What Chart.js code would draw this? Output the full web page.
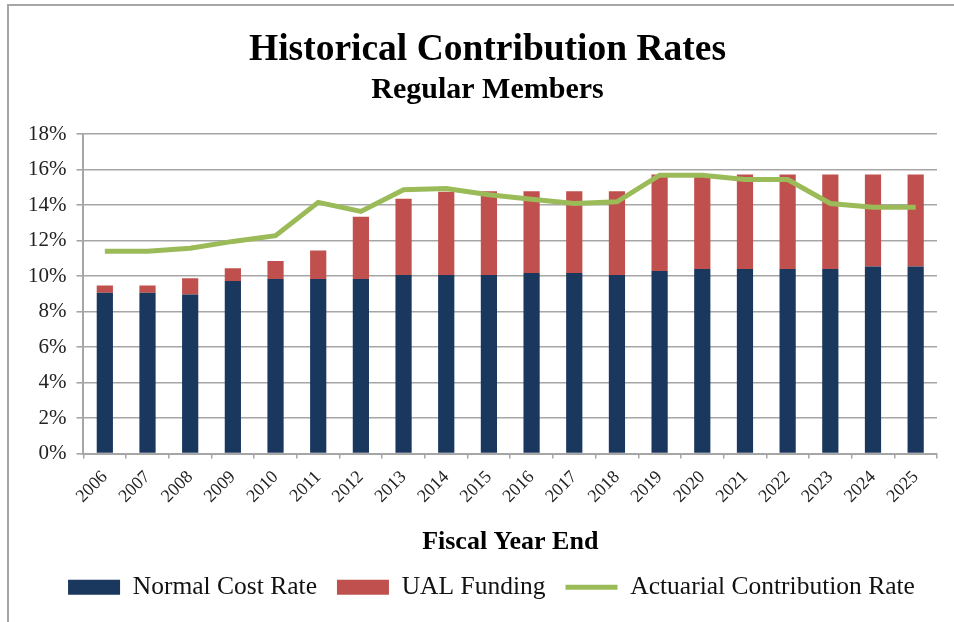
<!DOCTYPE html>
<html>
<head>
<meta charset="utf-8">
<script src="https://cdn.jsdelivr.net/npm/chart.js@4.4.1/dist/chart.umd.min.js"></script>
<style>
  html, body { margin: 0; padding: 0; background: #fff; }
  #wrap { position: relative; width: 954px; height: 622px; }
  #frame { position: absolute; left: 7px; top: 4px; width: 960px; height: 640px;
           border-left: 2px solid #a6a6a6; border-top: 2px solid #a6a6a6; }
  canvas { position: absolute; left: 0; top: 0; }
</style>
</head>
<body>
<div id="wrap">
  <div id="frame"></div>
  <canvas id="chart" width="954" height="622"></canvas>
</div>
<script>
// Fiscal years
const years = ['2006', '2007', '2008', '2009', '2010', '2011', '2012', '2013', '2014', '2015',
               '2016', '2017', '2018', '2019', '2020', '2021', '2022', '2023', '2024', '2025'];

// Normal cost rate (%)
const normalCost = [9.06, 9.06, 8.96, 9.73, 9.84, 9.84, 9.84, 10.07, 10.07, 10.07,
                    10.18, 10.18, 10.07, 10.29, 10.41, 10.41, 10.41, 10.41, 10.54, 10.54];

// UAL funding rate (%), stacked on top of normal cost
const ualFunding = [0.41, 0.41, 0.92, 0.71, 1.02, 1.60, 3.51, 4.29, 4.69, 4.72,
                    4.61, 4.61, 4.72, 5.44, 5.32, 5.32, 5.32, 5.32, 5.19, 5.19];

// Actuarial contribution rate (%)
const actuarialRate = [11.40, 11.40, 11.57, 11.96, 12.28, 14.16, 13.65, 14.87, 14.94, 14.59,
                       14.34, 14.10, 14.19, 15.69, 15.69, 15.45, 15.45, 14.10, 13.88, 13.88];

// Y axis ticks
const yMax = 18;
const yStep = 2;

const titleText = 'Historical Contribution Rates';
const subtitleText = 'Regular Members';

const serif = '"Liberation Serif", "Times New Roman", serif';
const navy = '#1a375e';
const red = '#c0504d';
const green = '#9bbb59';
const gridGray = '#a6a6a6';

// nudge the title block and legend a little, like the original
const nudgeBoxes = {
    id: 'nudgeBoxes',
    afterLayout(chart) {
        chart.boxes.forEach(box => {
            const txt = box.options && box.options.text;
            if (txt === titleText || txt === subtitleText) {
                box.left += 10;
                box.right += 10;
            }
        });
        if (chart.legend) {
            chart.legend.left += 14;
            chart.legend.right += 14;
            chart.legend.top -= 5;
            chart.legend.bottom -= 5;
        }
    }
};

const ctx = document.getElementById('chart').getContext('2d');

new Chart(ctx, {
    type: 'bar',
    data: {
        labels: years,
        datasets: [{
            type: 'line',
            label: 'Actuarial Contribution Rate',
            data: actuarialRate,
            borderColor: green,
            backgroundColor: green,
            borderWidth: 5,
            pointRadius: 0,
            tension: 0,
            order: 0
        }, {
            label: 'Normal Cost Rate',
            data: normalCost,
            backgroundColor: navy,
            barPercentage: 0.38,
            categoryPercentage: 1,
            order: 1
        }, {
            label: 'UAL Funding',
            data: ualFunding,
            backgroundColor: red,
            barPercentage: 0.38,
            categoryPercentage: 1,
            order: 1
        }]
    },
    plugins: [nudgeBoxes],
    options: {
        responsive: false,
        animation: false,
        layout: { padding: { left: 18, right: 17, top: 0, bottom: 7 } },
        plugins: {
            title: {
                display: true,
                text: titleText,
                color: '#000',
                font: { family: serif, size: 37.5, weight: 'bold', lineHeight: 1.1 },
                padding: { top: 30, bottom: 2 }
            },
            subtitle: {
                display: true,
                text: subtitleText,
                color: '#000',
                font: { family: serif, size: 30, weight: 'bold', lineHeight: 1.1 },
                padding: { top: 0, bottom: 28 }
            },
            tooltip: { enabled: false },
            legend: {
                position: 'bottom',
                labels: {
                    color: '#111',
                    font: { family: serif, size: 25.5 },
                    usePointStyle: true,
                    pointStyleWidth: 52,
                    boxWidth: 40,
                    boxHeight: 15,
                    padding: 20,
                    generateLabels: function(chart) {
                        // bars first, then the line, like the original legend
                        const order = [1, 2, 0];
                        return order.map(i => {
                            const ds = chart.data.datasets[i];
                            const isLine = ds.type === 'line';
                            return {
                                text: ds.label,
                                datasetIndex: i,
                                fillStyle: ds.backgroundColor,
                                strokeStyle: isLine ? ds.borderColor : ds.backgroundColor,
                                lineWidth: isLine ? 5 : 0,
                                pointStyle: isLine ? 'line' : 'rect',
                                fontColor: '#111',
                                hidden: false
                            };
                        });
                    }
                }
            }
        },
        scales: {
            x: {
                stacked: true,
                border: { display: true, color: gridGray, width: 2 },
                grid: { display: true, drawOnChartArea: false, drawTicks: true, tickLength: 5, color: gridGray, lineWidth: 1.5 },
                ticks: {
                    color: '#222',
                    font: { family: serif, size: 18 },
                    minRotation: 45,
                    maxRotation: 45,
                    padding: 8,
                    autoSkip: false
                },
                title: {
                    display: true,
                    text: 'Fiscal Year End',
                    color: '#000',
                    font: { family: serif, size: 26, weight: 'bold' },
                    padding: { top: 11, bottom: 2 }
                }
            },
            y: {
                stacked: true,
                min: 0,
                max: yMax,
                border: { display: true, color: gridGray, width: 2 },
                grid: { color: gridGray, lineWidth: 1.6, tickLength: 7 },
                ticks: {
                    stepSize: yStep,
                    color: '#222',
                    font: { family: serif, size: 21 },
                    padding: 10,
                    callback: v => v + '%'
                }
            }
        }
    }
});
</script>
</body>
</html>
